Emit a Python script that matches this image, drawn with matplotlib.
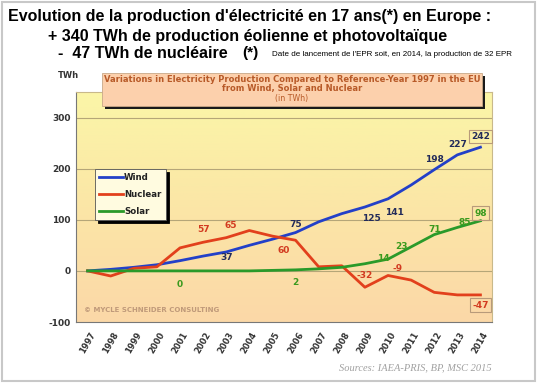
import numpy as np
import matplotlib
matplotlib.use("Agg")
import matplotlib.pyplot as plt
from matplotlib.patches import Rectangle
from matplotlib.colors import LinearSegmentedColormap

years = list(range(1997, 2015))
wind = [0, 3, 7, 12, 20, 29, 37, 50, 62, 75, 96, 112, 125, 141, 168, 198, 227, 242]
nuclear = [0, -10, 5, 8, 45, 56, 65, 79, 68, 60, 8, 10, -32, -9, -18, -42, -47, -47]
solar = [0, 0, 0, 0, 0, 0, 0, 0, 1, 2, 4, 7, 14, 23, 47, 71, 85, 98]

wind_labels = {2003: "37", 2006: "75", 2009: "125", 2010: "141", 2012: "198", 2013: "227"}
nuclear_labels = {2002: "57", 2003: "65", 2006: "60", 2009: "-32", 2010: "-9"}
solar_labels = {2001: "0", 2006: "2", 2009: "14", 2010: "23", 2012: "71", 2013: "85"}
yticks = [-100, 0, 100, 200, 300]

C_WIND = "#2340c8"
C_NUC = "#e2401c"
C_SOL = "#2a9a2a"
C_WIND_T = "#232b5a"
C_NUC_T = "#d23a20"
C_SOL_T = "#3a9a1e"

fig = plt.figure(figsize=(5.4, 3.83), dpi=100)
fig.patch.set_facecolor("white")

W, H = 540.0, 383.0
def fx(x): return x / W
def fy(y): return 1 - y / H

# slide frame
fig.patches.append(Rectangle((fx(2), fy(381)), fx(535) - fx(2), fy(2) - fy(381),
                             transform=fig.transFigure, fill=False, ec="#c8c8c8", lw=1.5, zorder=0))

ax = fig.add_axes([fx(76), fy(322), fx(492) - fx(76), fy(92) - fy(322)])
ax.set_xlim(1996.5, 2014.5)
ax.set_ylim(-100, 350)

cmap = LinearSegmentedColormap.from_list("bg", ["#fcd8a8", "#fbe6a6", "#fbf6a8"])
grad = np.linspace(0, 1, 256).reshape(-1, 1)
ax.imshow(grad, cmap=cmap, origin="lower", aspect="auto",
          extent=[1996.5, 2014.5, -100, 350], zorder=0)

for yv in [0, 100, 200, 300]:
    ax.axhline(yv, color="#b5a678", lw=0.8, zorder=1)

ax.plot(years, wind, color=C_WIND, lw=2, zorder=3, label="Wind")
ax.plot(years, nuclear, color=C_NUC, lw=2, zorder=3, label="Nuclear")
ax.plot(years, solar, color=C_SOL, lw=2, zorder=3, label="Solar")

ax.set_xticks(years)
ax.set_xticklabels([str(y) for y in years], rotation=60, fontsize=6, fontweight="bold",
                   color="#333333", ha="center", va="top")
ax.set_yticks(yticks)
ax.set_yticklabels([str(v) for v in yticks], fontsize=6.5, fontweight="bold", color="#333333")
ax.tick_params(length=0, pad=4)
ax.tick_params(axis="x", pad=6)
for s in ["top", "right"]:
    ax.spines[s].set_color("#c9b98a")
    ax.spines[s].set_linewidth(0.8)
ax.spines["left"].set_color("#777777")
ax.spines["bottom"].set_color("#777777")

# data labels
def lab(x, y, t, c):
    ax.text(x, y, t, color=c, fontsize=6.5, fontweight="bold", ha="center", va="center", zorder=4)

lab(2003, 27, wind_labels[2003], C_WIND_T)
lab(2006, 90, wind_labels[2006], C_WIND_T)
lab(2009.3, 102, wind_labels[2009], C_WIND_T)
lab(2010.3, 115, wind_labels[2010], C_WIND_T)
lab(2012, 218, wind_labels[2012], C_WIND_T)
lab(2013, 248, wind_labels[2013], C_WIND_T)

lab(2002, 80, nuclear_labels[2002], C_NUC_T)
lab(2003.2, 89, nuclear_labels[2003], C_NUC_T)
lab(2005.5, 39, nuclear_labels[2006], C_NUC_T)
lab(2009, -10, nuclear_labels[2009], C_NUC_T)
lab(2010.4, 4, nuclear_labels[2010], C_NUC_T)

lab(2001, -27, solar_labels[2001], C_SOL_T)
lab(2006, -23, solar_labels[2006], C_SOL_T)
lab(2009.8, 25, solar_labels[2009], C_SOL_T)
lab(2010.6, 48, solar_labels[2010], C_SOL_T)
lab(2012, 80, solar_labels[2012], C_SOL_T)
lab(2013.3, 95, solar_labels[2013], C_SOL_T)

def boxlab(x, y, t, c):
    ax.text(x, y, t, color=c, fontsize=6.5, fontweight="bold", ha="center", va="center", zorder=5,
            bbox=dict(boxstyle="square,pad=0.25", fc="none", ec="#b89a7a", lw=0.8))

boxlab(2014, 263, str(wind[-1]), C_WIND_T)
boxlab(2014, 113, str(solar[-1]), C_SOL_T)
boxlab(2014, -67, str(nuclear[-1]), C_NUC_T)

leg = ax.legend(loc="upper left", bbox_to_anchor=(0.035, 0.685), fontsize=6.2, frameon=True,
                fancybox=False, handlelength=2.8, handletextpad=0.1, borderpad=0.5,
                labelspacing=0.9, shadow={"color": "black", "alpha": 1})
leg.get_frame().set_facecolor("#fffbe0")
leg.get_frame().set_edgecolor("#555555")
leg.get_frame().set_linewidth(0.6)
for t in leg.get_texts():
    t.set_fontweight("bold")
    t.set_color("#222222")

ax.text(0.02, 0.04, "© MYCLE SCHNEIDER CONSULTING", transform=ax.transAxes, fontsize=5,
        color="#c09a7a", fontweight="bold", ha="left", va="bottom", zorder=4)

# chart title box with shadow
bx0, by0, bx1, by1 = 102, 73, 482, 106
fig.patches.append(Rectangle((fx(bx0 + 3), fy(by1 + 3)), fx(bx1) - fx(bx0), fy(by0) - fy(by1),
                             transform=fig.transFigure, fc="#1a1a1a", ec="none", zorder=5))
fig.patches.append(Rectangle((fx(bx0), fy(by1)), fx(bx1) - fx(bx0), fy(by0) - fy(by1),
                             transform=fig.transFigure, fc="#fcd0ac", ec="#c8a888", lw=0.6, zorder=6))
tc = "#b85a28"
fig.text(fx(292), fy(79), "Variations in Electricity Production Compared to Reference-Year 1997 in the EU",
         ha="center", va="center", fontsize=6.0, fontweight="bold", color=tc, zorder=7)
fig.text(fx(292), fy(89), "from Wind, Solar and Nuclear", ha="center", va="center",
         fontsize=6.0, fontweight="bold", color=tc, zorder=7)
fig.text(fx(292), fy(99), "(in TWh)", ha="center", va="center", fontsize=5.6, color=tc, zorder=7)

fig.text(fx(68), fy(75), "TWh", ha="center", va="center", fontsize=6, fontweight="bold", color="#333333")

fig.text(fx(492), fy(368), "Sources: IAEA-PRIS, BP, MSC 2015", ha="right", va="center",
         fontsize=7.5, style="italic", color="#a0a0a0", family="Liberation Serif")

# slide heading
fig.text(fx(8), fy(17), "Evolution de la production d'électricité en 17 ans(*) en Europe :",
         ha="left", va="center", fontsize=11.5, fontweight="bold", color="black", family="Liberation Sans")
fig.text(fx(48), fy(37), "+ 340 TWh de production éolienne et photovoltaïque",
         ha="left", va="center", fontsize=11.5, fontweight="bold", color="black", family="Liberation Sans")
fig.text(fx(58), fy(53), "-  47 TWh de nucléaire", ha="left", va="center", fontsize=11.5,
         fontweight="bold", color="black", family="Liberation Sans")
fig.text(fx(242), fy(53), "(*)", ha="left", va="center", fontsize=11,
         fontweight="bold", color="black", family="Liberation Sans")
fig.text(fx(272), fy(55), "Date de lancement de l'EPR soit, en 2014, la production de 32 EPR",
         ha="left", va="center", fontsize=5.8, color="black", family="Liberation Sans")

fig.savefig("out.png", dpi=100)
